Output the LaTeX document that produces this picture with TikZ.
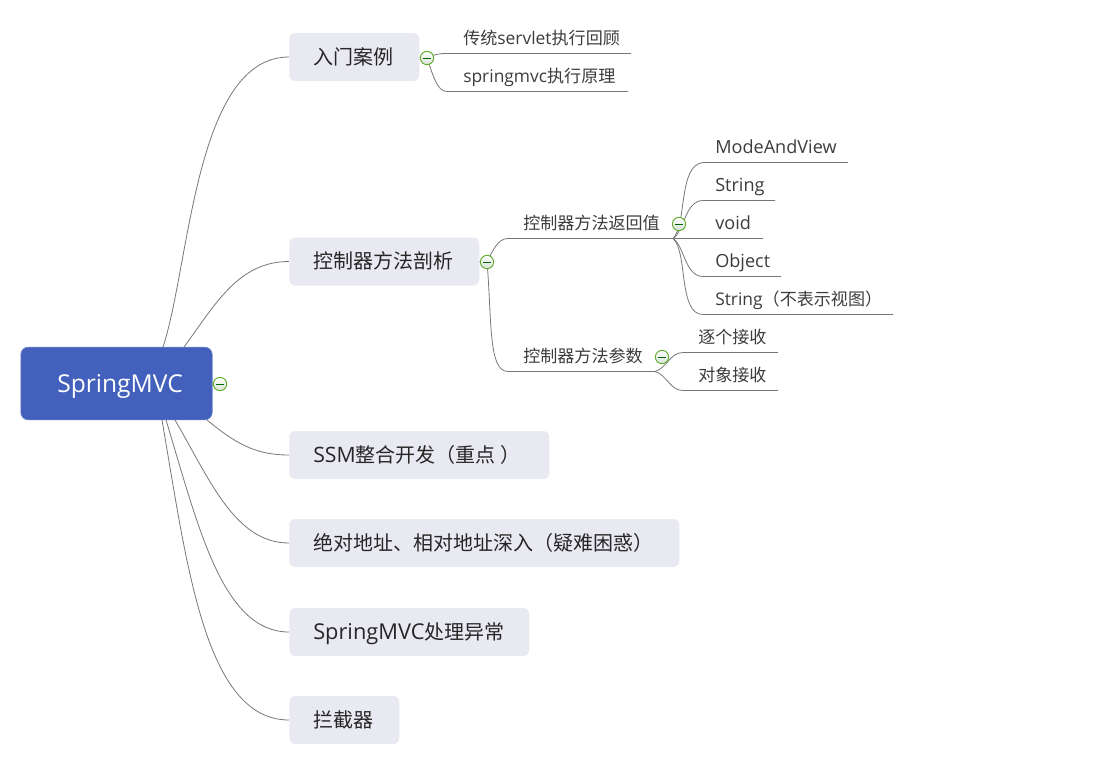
\documentclass[tikz,border=0pt]{standalone}
\usepackage{fontspec}
\setmainfont[Scale=1.06]{Open Sans}
\newfontfamily\cjk{Noto Sans CJK SC}
\newfontfamily\ltnsmall[Scale=1.02]{Open Sans}
\newfontfamily\ltnbig[Scale=1.09]{Open Sans}
\definecolor{rootblue}{HTML}{4361BC}
\definecolor{topicbg}{HTML}{E9E9F2}
\definecolor{linegray}{HTML}{777777}
\definecolor{txt}{HTML}{3C3C3C}
\definecolor{icongreen}{HTML}{5FAD2A}
\tikzset{
 rootbox/.style={draw=rootblue!80!white,line width=.5pt,fill=rootblue,rounded corners=5.5,inner sep=0},
 topic/.style={fill=topicbg,rounded corners=4.5,anchor=west,inner sep=0},
 topictext/.style={inner sep=0,anchor=base west,text=black!85,font=\fontsize{15pt}{18pt}\selectfont},
 leaf/.style={anchor=base west,inner sep=0,text=txt,font=\fontsize{12.8pt}{15pt}\selectfont},
 conn/.style={draw=linegray,line width=.6pt},
 toggle/.style={circle,draw=icongreen,line width=.7pt,minimum size=10pt,inner sep=0,top color=white,bottom color=green!25!black!15,
  path picture={\draw[draw=black!60!green,line width=.55pt] ([xshift=-3.2pt]path picture bounding box.center) -- ([xshift=3.2pt]path picture bounding box.center);}}
}
\newcommand{\zh}[1]{{\cjk #1}}
\begin{document}
\begin{tikzpicture}[x=.75pt,y=-.75pt]
\useasboundingbox (0,0) rectangle (1110,761);
% root
\node[rootbox,minimum width=143.5pt,minimum height=54.5pt] (root) at (116.5,383.5) {};
\node[text=white,font=\fontsize{17.4pt}{20pt}\selectfont,inner sep=0,anchor=base west] (roottext) at (57,392) {SpringMVC};
% topics
\newcommand{\topicbox}[5]{\node[topic,minimum width=#3*.75pt,minimum height=#4*.75pt] (#1) at (289,#2) {};
 \node[topictext] (#1t) at (313,#2+7) {#5};}
\topicbox{t1}{57}{130}{48}{\zh{入门案例}}
\topicbox{t2}{261.5}{190}{48}{\zh{控制器方法剖析}}
\topicbox{t3}{455}{260}{48}{SSM\zh{整合开发（重点 ）}}
\topicbox{t4}{543}{390}{48}{\zh{绝对地址、相对地址深入（疑难困惑）}}
\topicbox{t5}{632}{240}{48}{{\ltnbig SpringMVC}\zh{处理异常}}
\topicbox{t6}{720}{110}{48}{\zh{拦截器}}
% root anchors
\coordinate (r1) at (163,347);
\coordinate (r2) at (184,347);
\coordinate (r3) at (207,420);
\coordinate (r4) at (175,420);
\coordinate (r5) at (166,420);
\coordinate (r6) at (162,420);
\draw[conn] (r1) .. controls (190,265) and (195,57) .. (t1.west);
\draw[conn] (r2) .. controls (215,305) and (238,261.5) .. (t2.west);
\draw[conn] (r3) .. controls (235,443) and (255,455) .. (t3.west);
\draw[conn] (r4) .. controls (210,480) and (235,543) .. (t4.west);
\draw[conn] (r5) .. controls (198,525) and (222,632) .. (t5.west);
\draw[conn] (r6) .. controls (187,565) and (205,720) .. (t6.west);
% leaves level 1
\node[leaf] (a1) at (463,44.5) {\zh{传统}{\ltnsmall servlet}\zh{执行回顾}};
\node[leaf] (a2) at (463,82.5) {{\ltnsmall springmvc}\zh{执行原理}};
\coordinate (a1s) at (447,53.5); \coordinate (a1e) at (631,53.5);
\coordinate (a2s) at (447,91.5); \coordinate (a2e) at (628,91.5);
\coordinate (ja) at (427,58);
\draw[conn] (t1.east) -- (ja) .. controls (435,54) and (440,53.5) .. (a1s) -- (a1e);
\draw[conn] (ja) .. controls (433,75) and (437,91.5) .. (a2s) -- (a2e);
% level 2
\node[leaf] (b1) at (523,229) {\zh{控制器方法返回值}};
\node[leaf] (b2) at (523,362) {\zh{控制器方法参数}};
\coordinate (jb) at (487,262);
\coordinate (b1s) at (508,238.5); \coordinate (b1e) at (673,238.5);
\coordinate (b2s) at (508,371.5); \coordinate (b2e) at (655,371.5);
\draw[conn] (t2.east) -- (jb) .. controls (493,250) and (498,238.5) .. (b1s) -- (b1e);
\draw[conn] (jb) .. controls (492,320) and (488,371.5) .. (b2s) -- (b2e);
% level 3
\node[leaf] (c1) at (715,153) {ModeAndView};
\node[leaf] (c2) at (715,191) {String};
\node[leaf] (c3) at (715,229) {void};
\node[leaf] (c4) at (715,267) {Object};
\node[leaf] (c5) at (715,305) {{\ltnsmall String}\zh{（不表示视图）}};
\coordinate (c1s) at (703,162.5); \coordinate (c1e) at (848,162.5);
\coordinate (c2s) at (703,200.5); \coordinate (c2e) at (775,200.5);
\coordinate (c3e) at (763,238.5);
\coordinate (c4s) at (703,276.5); \coordinate (c4e) at (781,276.5);
\coordinate (c5s) at (703,314.5); \coordinate (c5e) at (893,314.5);
\draw[conn] (b1e) .. controls (687,225) and (678,165) .. (c1s) -- (c1e);
\draw[conn] (b1e) .. controls (684,232) and (685,200.5) .. (c2s) -- (c2e);
\draw[conn] (b1e) -- (c3e);
\draw[conn] (b1e) .. controls (684,245) and (685,276.5) .. (c4s) -- (c4e);
\draw[conn] (b1e) .. controls (688,252) and (678,314.5) .. (c5s) -- (c5e);
\node[leaf] (d1) at (698,343) {\zh{逐个接收}};
\node[leaf] (d2) at (698,381) {\zh{对象接收}};
\coordinate (d1s) at (683,352.5); \coordinate (d1e) at (778,352.5);
\coordinate (d2s) at (683,390.5); \coordinate (d2e) at (778,390.5);
\draw[conn] (b2e) .. controls (667,368) and (670,352.5) .. (d1s) -- (d1e);
\draw[conn] (b2e) .. controls (667,375) and (670,390.5) .. (d2s) -- (d2e);
% toggles
\node[toggle] (i0) at (220,384) {};
\node[toggle] (i1) at (427,58) {};
\node[toggle] (i2) at (487,262) {};
\node[toggle] (i3) at (679,224) {};
\node[toggle] (i4) at (662,357) {};
\end{tikzpicture}
\end{document}
